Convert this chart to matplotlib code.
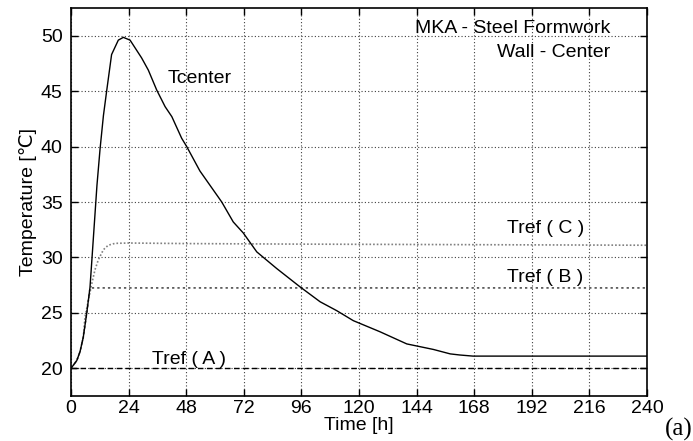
import matplotlib.pyplot as plt

# Tcenter: temperature at the wall centre, steel formwork
time_center = [0, 2.4, 3.75, 5.1, 6.5, 7.9, 8.6, 9.7, 10.8, 12.1, 13.5, 14.9, 16.9, 19.7,
               21.8, 24.6, 29.4, 32.2, 35.7, 39.2, 42, 46.1, 48.2, 53.7, 62.8, 67.6,
               71.8, 77.4, 85.7, 95.4, 103.8, 110.7, 117.6, 128.7, 139.9, 151,
               158, 162, 167.5, 180, 200, 220, 240]
temp_center = [20, 20.7, 21.5, 22.8, 24.9, 27.3, 29.5, 33.0, 36.5, 39.8, 42.8, 45.1,
               48.3, 49.6, 49.85, 49.6, 48.0, 46.9, 45.1, 43.6, 42.7, 40.75, 40.0,
               37.8, 35.0, 33.2, 32.2, 30.5, 29.0, 27.35, 26.0, 25.2, 24.3, 23.3,
               22.2, 21.7, 21.3, 21.2, 21.1, 21.1, 21.1, 21.1, 21.1]

# reference temperatures
time_ref_c = [0, 2.4, 3.75, 5.1, 5.8, 7.2, 8.6, 10, 11.4, 13.5, 15.5, 18.3, 24, 48, 96, 240]
temp_ref_c = [20, 20.7, 21.5, 22.8, 24.6, 26.1, 27.6, 28.9, 29.8, 30.7, 31.1, 31.27,
              31.3, 31.25, 31.2, 31.1]

time_ref_b = [0, 2.4, 3.75, 5.1, 6.5, 7.9, 240]
temp_ref_b = [20, 20.7, 21.5, 22.8, 24.9, 27.25, 27.25]

time_ref_a = [0, 240]
temp_ref_a = [20, 20]

x_ticks = list(range(0, 241, 24))
y_ticks = [20, 25, 30, 35, 40, 45, 50]

plt.rcParams["font.family"] = ["Liberation Sans", "DejaVu Sans"]
plt.rcParams["font.size"] = 14

fig = plt.figure(figsize=(6.93, 4.41), dpi=100)
ax = fig.add_axes([0.1025, 0.102, 0.8311, 0.8799])

ax.plot(time_ref_a, temp_ref_a, color="black", linestyle=(0, (4, 2.5)), linewidth=1.0)
ax.plot(time_ref_b, temp_ref_b, color="0.25", linestyle=(0, (1.5, 2)), linewidth=1.1)
ax.plot(time_ref_c, temp_ref_c, color="0.5", linestyle=(0, (1, 1.2)), linewidth=1.2)
ax.plot(time_center, temp_center, color="black", linewidth=1.0)

ax.set_xlim(0, 240)
ax.set_ylim(17.5, 52.5)
ax.set_xticks(x_ticks)
ax.set_yticks(y_ticks)
ax.grid(True, color="0.25", linestyle=(0, (1, 2)), linewidth=0.8)
ax.tick_params(direction="in", top=True, right=True, length=5, width=1)
ax.tick_params(axis="y", pad=6)
ax.tick_params(axis="x", pad=3)
for s in ax.spines.values():
    s.set_linewidth(1.2)

ax.set_xlabel("Time [h]", labelpad=0)
ax.set_ylabel("Temperature [\u2103]", labelpad=3)

ax.text(40.3, 45.7, "Tcenter")
ax.text(33.7, 20.35, "Tref ( A )")
ax.text(181.5, 32.2, "Tref ( C )")
ax.text(181.5, 27.75, "Tref ( B )")
ax.text(224.6, 50.26, "MKA - Steel Formwork", ha="right")
ax.text(224.6, 48.1, "Wall - Center", ha="right")

fig.text(0.999, 0.0, "(a)", family="Liberation Serif", fontsize=18,
         ha="right", va="bottom")

fig.savefig("out.png", dpi=100)
